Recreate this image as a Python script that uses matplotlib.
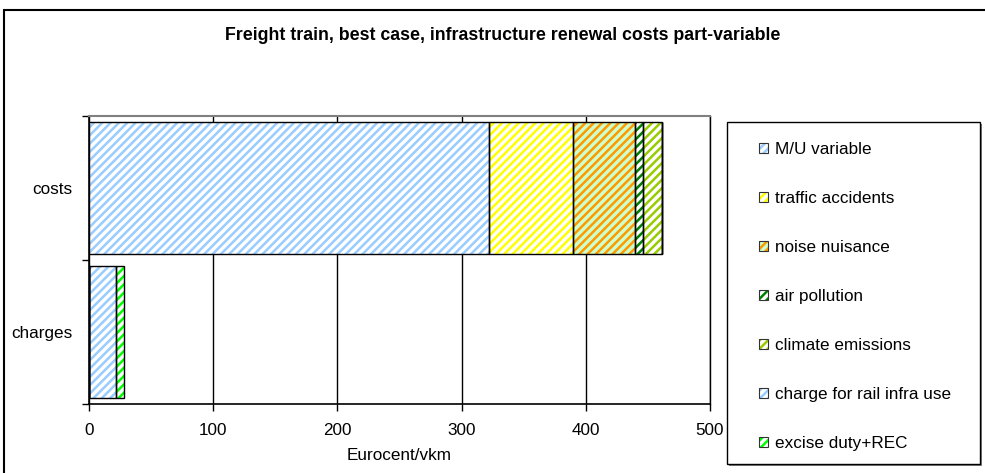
import numpy as np
import matplotlib
matplotlib.use("Agg")
import matplotlib.pyplot as plt
from matplotlib.patches import Patch, Rectangle

# data (Eurocent/vkm)
categories = ["charges", "costs"]
series_names = ["M/U variable", "traffic accidents", "noise nuisance", "air pollution",
                "climate emissions", "charge for rail infra use", "excise duty+REC"]
mu_variable = [0, 322]
traffic_accidents = [0, 68]
noise_nuisance = [0, 50]
air_pollution = [0, 6]
climate_emissions = [0, 15]
charge_infra = [22, 0]
excise_duty = [6.5, 0]
x_ticks = [0, 100, 200, 300, 400, 500]

series_values = [mu_variable, traffic_accidents, noise_nuisance, air_pollution,
                 climate_emissions, charge_infra, excise_duty]
# (background, stripe colour)
styles = [("white", "#99CCFF"), ("white", "#FFFF00"), ("#CCFFCC", "#FF9900"),
          ("white", "#008000"), ("white", "#99CC00"), ("white", "#99CCFF"),
          ("white", "#00FF00")]

plt.rcParams["font.family"] = ["Liberation Sans", "DejaVu Sans"]
plt.rcParams["hatch.linewidth"] = 1.8
FS = 12.3

fig = plt.figure(figsize=(9.85, 4.73), dpi=100)
ax = fig.add_axes([89 / 985, 1 - 404 / 473, 621 / 985, 288 / 473])

ypos = np.arange(len(categories))
left = np.zeros(len(categories))
handles = []
for name, vals, (bg, stripe) in zip(series_names, series_values, styles):
    vals = np.array(vals, dtype=float)
    ax.barh(ypos, vals, height=0.91, left=left, color=bg, edgecolor=stripe,
            hatch="////", linewidth=0, zorder=2)
    ax.barh(ypos, vals, height=0.91, left=left, fill=False, edgecolor="black",
            linewidth=1.0, zorder=3)
    left += vals
    handles.append((Patch(facecolor=bg, edgecolor=stripe, hatch="////", linewidth=0),
                    Patch(fill=False, edgecolor="#333333", linewidth=0.8)))

ax.set_xlim(0, 500)
ax.set_ylim(-0.5, 1.5)
ax.set_xticks(x_ticks)
ax.set_xticklabels([str(t) for t in x_ticks], fontsize=FS)
ax.set_yticks(ypos)
ax.set_yticklabels(categories, fontsize=FS)
ax.set_yticks([-0.5, 0.5, 1.5], minor=True)
ax.tick_params(axis="y", which="major", length=0, pad=12)
ax.tick_params(axis="y", which="minor", length=5, direction="out", width=1)
ax.tick_params(axis="x", length=5, direction="out", width=1, pad=9)
ax.grid(axis="x", color="black", linewidth=1.0, zorder=0)
ax.set_axisbelow(True)
for s in ["left", "bottom"]:
    ax.spines[s].set_color("black")
    ax.spines[s].set_linewidth(1.2)
ax.spines["top"].set_color("#808080")
ax.spines["top"].set_linewidth(1.5)
ax.spines["right"].set_color("black")
ax.spines["right"].set_linewidth(1.0)
ax.set_xlabel("Eurocent/vkm", fontsize=FS, labelpad=7)

fig.text(503 / 985, 1 - 36 / 473, "Freight train, best case, infrastructure renewal costs part-variable",
         ha="center", va="center", fontsize=12.8, fontweight="bold")

# outer chart border
fig.patches.append(Rectangle((4 / 985, -0.1), 1.2, 1.1 - 10 / 473, transform=fig.transFigure,
                             fill=False, edgecolor="black", linewidth=1.5))
# legend box with shadow
lx0, ly0, lx1, ly1 = 727, 122, 980, 464
fig.patches.append(Rectangle(((lx0 + 2) / 985, 1 - (ly1 + 2) / 473), (lx1 - lx0) / 985,
                             (ly1 - ly0) / 473, transform=fig.transFigure,
                             facecolor="#808080", edgecolor="none"))
fig.patches.append(Rectangle((lx0 / 985, 1 - ly1 / 473), (lx1 - lx0) / 985, (ly1 - ly0) / 473,
                             transform=fig.transFigure, facecolor="white",
                             edgecolor="black", linewidth=1.0))
fig.legend(handles=handles, labels=series_names, loc="upper left",
           bbox_to_anchor=(752 / 985, 1 - 135 / 473),
           frameon=False, fontsize=FS, handlelength=0.55, handleheight=0.55,
           handletextpad=0.4, labelspacing=1.99, borderaxespad=0)

fig.savefig("out.png", dpi=100)
